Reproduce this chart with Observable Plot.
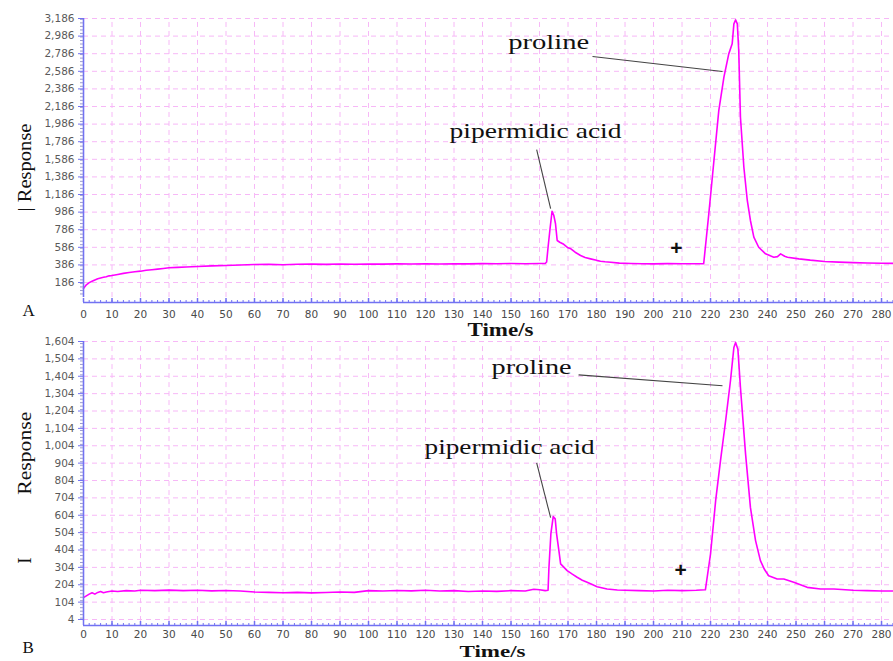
<!DOCTYPE html>
<html><head><meta charset="utf-8">
<script src="https://cdn.jsdelivr.net/npm/d3@7"></script>
<script src="https://cdn.jsdelivr.net/npm/@observablehq/plot@0.6"></script>
<style>
body{margin:0;background:#fff;width:893px;height:661px;overflow:hidden;position:relative}
#a,#b{position:absolute;left:0}
#a{top:0}#b{top:330px}
svg{overflow:visible}
</style></head><body><div id="a"></div><div id="b"></div>
<script>
// ---------- data ----------
const timeA = [0,1,2,3,4,5,6,7,8,9,10,12,14,16,18,20,22,24,26,28,30,33,36,40,45,50,55,60,65,70,75,80,85,90,95,100,105,110,115,120,125,130,135,140,145,150,155,160,162,162.5,163,163.7,164.4,165,165.6,166.2,167.1,168.5,170,171,172.5,174.4,176,177.9,180,181.4,183,185,188,192,196,200,205,210,215,217.6,219.4,221.2,222.9,224.7,226.4,227.6,228.2,228.8,229.4,229.9,230.5,231.7,232.9,234,235.2,236.9,239.3,242.2,243.5,244.6,246,247,251,255,260,265,270,275,280,284.2];
const responseA = [118,160,185,200,215,228,238,245,252,262,266,278,290,300,308,315,325,332,338,345,353,358,363,368,375,380,385,391,392,388,393,395,392,396,394,397,395,398,396,399,397,400,398,401,399,402,400,403,402,420,587,800,996,950,857,663,644,620,580,569,530,493,470,455,438,428,422,417,406,402,400,398,401,399,400,399,967,1572,2140,2519,2784,2898,3125,3170,3125,2822,2064,1496,1118,891,701,587,512,474,480,512,485,474,455,440,425,418,412,408,405,403];

const timeB = [0,1,2,3,4,5,6,7,8,10,12,15,18,20,25,30,35,40,45,50,55,60,65,70,75,80,85,90,95,100,105,110,115,120,125,130,135,140,145,150,155,158,160,162,163,163.3,164,164.8,165.5,166,166.8,167.4,169.7,171.5,173.2,175,176.7,178.5,180.2,183.7,187.3,190,195,200,205,210,215,218.2,220,221.8,223.5,225.3,227,228.2,228.8,229.6,230.5,232.3,234,235.8,237.5,239,240.4,243.4,245.7,249.2,253.9,258.6,263.3,270,275,280,284.2];
const responseB = [130,140,150,158,150,160,165,158,162,168,165,170,168,172,170,173,170,172,169,171,168,162,160,158,160,157,159,162,160,170,168,171,169,172,168,170,165,168,166,170,168,178,175,170,172,300,500,596,583,496,400,324,285,265,247,230,218,205,193,180,174,172,170,168,172,170,172,175,381,688,918,1148,1378,1570,1598,1560,1339,956,649,458,343,290,256,237,237,218,189,180,180,172,170,168,168];

const xTicks = [0,10,20,30,40,50,60,70,80,90,100,110,120,130,140,150,160,170,180,190,200,210,220,230,240,250,260,270,280];
const yTicksA = [186,386,586,786,986,1186,1386,1586,1786,1986,2186,2386,2586,2786,2986,3186];
const yTicksB = [4,104,204,304,404,504,604,704,804,904,1004,1104,1204,1304,1404,1504,1604];

const annA = [{label: "proline", t: 163.2, v: 2913}, {label: "pipermidic acid", t: 158.6, v: 1902}];
const leadA = [{t1: 178.6, v1: 2754, t2: 224.2, v2: 2583}, {t1: 159, v1: 1697, t2: 163.9, v2: 1027}];
const plusA = [{t: 208, v: 573}];
const annB = [{label: "proline", t: 157.2, v: 1458}, {label: "pipermidic acid", t: 149.5, v: 993}];
const leadB = [{t1: 173.7, v1: 1412, t2: 224.2, v2: 1349}, {t1: 159, v1: 906, t2: 163.9, v2: 590}];
const plusB = [{t: 209.5, v: 285}];

const BLUE = "#7272f2", GRID = "#f7b8f7", LINE = "#ff00ff";
const SERIF = "'Liberation Serif','Times New Roman',serif";

function panel(o) {
  const data = o.times.map((t, i) => ({t, v: o.values[i]}));
  const [y0, yTop] = o.yDomain;
  const upp = (yTop - y0) / (o.height - o.marginTop - o.marginBottom);
  const xGrid = xTicks.filter(d => d > 0);
  const minorX = d3.range(0, 285, 2);
  const minorY = d3.range(o.yBase + o.minorStep, yTop, o.minorStep);
  const svg = Plot.plot({
    width: 893, height: o.height,
    marginLeft: 83, marginRight: 0, marginTop: o.marginTop, marginBottom: o.marginBottom,
    x: {domain: [0, 284.2], label: null},
    y: {domain: o.yDomain, label: null},
    style: {background: "none", fontFamily: "'DejaVu Sans',sans-serif", fontSize: "10.5px", overflow: "visible"},
    marks: [
      Plot.ruleY(o.yTicks, {stroke: GRID, strokeDasharray: "5,4"}),
      Plot.ruleX(xGrid, {y1: o.yBase, y2: yTop, stroke: GRID, strokeDasharray: "5,4"}),
      Plot.line(data, {x: "t", y: "v", stroke: LINE, strokeWidth: 1.6}),
      Plot.ruleX([0], {y1: o.yBase, y2: yTop, stroke: BLUE, strokeWidth: 1.6}),
      Plot.ruleY([y0], {stroke: BLUE, strokeWidth: 1.6}),
      Plot.ruleX(minorX, {y1: y0, y2: y0 + 2 * upp, stroke: BLUE, strokeWidth: 1}),
      Plot.ruleX(xTicks, {y1: y0, y2: y0 + 4 * upp, stroke: BLUE, strokeWidth: 1.5}),
      Plot.axisX(xTicks, {tickSize: 0, tickPadding: o.xPad, fill: "#4a4a4a", label: null, tickFormat: d => String(d)}),
      Plot.axisY(minorY, {tickSize: 3, stroke: "#9a9ad0", tickFormat: () => "", label: null}),
      Plot.axisY(o.yTicks, {tickSize: 5, tickPadding: 4, stroke: BLUE, fill: "#5a5a5a", label: null, tickFormat: d3.format(",")}),
      Plot.link(o.leaders, {x1: "t1", y1: "v1", x2: "t2", y2: "v2", stroke: "#444", strokeWidth: 1.1}),
      Plot.text(o.anns, {x: "t", y: "v", text: "label", fontFamily: SERIF, fontSize: 21, fill: "#111"}),
      Plot.text(o.plus, {x: "t", y: "v", text: () => "+", fontFamily: "'Liberation Sans',Arial,sans-serif", fontWeight: "bold", fontSize: 21, fill: "#111"}),
      Plot.text(["Time/s"], {x: [o.titleT], frameAnchor: "bottom", dy: o.titleDy, fontFamily: SERIF, fontWeight: "bold", fontSize: o.titleSize, fill: "#111"}),
      Plot.text([o.letter], {frameAnchor: "bottom-left", dx: -61, dy: o.letterDy, fontFamily: SERIF, fontSize: 17, fill: "#111"}),
      Plot.text(o.ylabels, {y: "v", text: "label", frameAnchor: "left", dx: -59, rotate: -90, fontFamily: SERIF, fontSize: 19, fill: "#111"})
    ]
  });
  svg.querySelectorAll("text").forEach(t => {
    const w = o.widths[t.textContent];
    if (w) { t.setAttribute("textLength", w); t.setAttribute("lengthAdjust", "spacingAndGlyphs"); }
  });
  return svg;
}

const optsA = {
  times: timeA, values: responseA, yTicks: yTicksA, yDomain: [-41, 3186], yBase: 16,
  height: 345, marginTop: 18, marginBottom: 43, minorStep: 40, xPad: 8,
  anns: annA, leaders: leadA, plus: plusA, letter: "A", letterDy: 13,
  titleT: 146.3, titleDy: 33, titleSize: 18,
  ylabels: [{label: "| Response", v: 993}],
  widths: {"proline": 81, "pipermidic acid": 172, "Time/s": 66, "| Response": 88}
};
const optsB = {
  times: timeB, values: responseB, yTicks: yTicksB, yDomain: [-30.5, 1604], yBase: -8,
  height: 331, marginTop: 11, marginBottom: 36, minorStep: 20, xPad: 5,
  anns: annB, leaders: leadB, plus: plusB, letter: "B", letterDy: 27,
  titleT: 143.5, titleDy: 31, titleSize: 16,
  ylabels: [{label: "Response", v: 722}, {label: "I", v: 325}],
  widths: {"proline": 80, "pipermidic acid": 170, "Time/s": 66, "Response": 83}
};
document.getElementById("a").appendChild(panel(optsA));
document.getElementById("b").appendChild(panel(optsB));
</script></body></html>
